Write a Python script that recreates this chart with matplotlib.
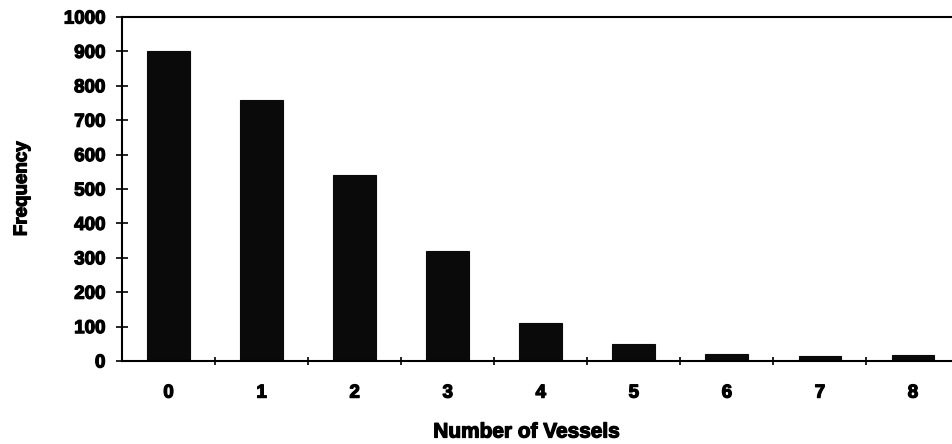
import matplotlib
matplotlib.use('Agg')
import matplotlib.pyplot as plt
import matplotlib.patheffects as pe
import numpy as np

plt.rcParams['font.family'] = ['Liberation Sans', 'DejaVu Sans']
plt.rcParams['font.weight'] = 'bold'

# Data
vessels = ['0', '1', '2', '3', '4', '5', '6', '7', '8']
frequency = [900, 760, 540, 320, 110, 50, 20, 15, 18]

heavy = [pe.withStroke(linewidth=0.9, foreground='black')]

fig = plt.figure(figsize=(9.53, 4.44), dpi=100)
ax = fig.add_axes([122 / 953, 1 - 361 / 444, (953 - 122) / 953, (361 - 17) / 444])

x = np.arange(len(vessels))
ax.bar(x, frequency, width=0.46, color='#0a0a0a', edgecolor='#0a0a0a', linewidth=0.8)

ax.set_xlim(-0.5, 8.43)
ax.set_ylim(0, 1000)
ax.set_yticks(np.arange(0, 1001, 100))
ax.set_xticks(x)
ax.set_xticklabels(vessels)
ax.set_xticks(np.arange(0.5, 8.5, 1), minor=True)
ax.tick_params(axis='x', which='major', length=0, pad=17, labelsize=13.5)
ax.tick_params(axis='x', which='minor', length=6, direction='inout', width=1.2)
ax.tick_params(axis='y', length=8, direction='inout', width=1.2, pad=8, labelsize=13.5)

for lbl in ax.get_xticklabels() + ax.get_yticklabels():
    lbl.set_path_effects(heavy)

for s in ['left', 'bottom', 'top']:
    ax.spines[s].set_linewidth(1.5)
ax.spines['right'].set_visible(False)

ax.set_ylabel('Frequency', fontsize=13.5, fontweight='bold', path_effects=heavy)
ax.yaxis.set_label_coords((22 - 122) / (953 - 122), 0.5)
ax.set_xlabel('Number of Vessels', fontsize=15, fontweight='bold', path_effects=heavy)
ax.xaxis.set_label_coords((527 - 122) / (953 - 122), -(432 - 361) / (361 - 17))
ax.xaxis.label.set_va('center')
ax.yaxis.label.set_va('center')

fig.savefig('out.png', dpi=100)
